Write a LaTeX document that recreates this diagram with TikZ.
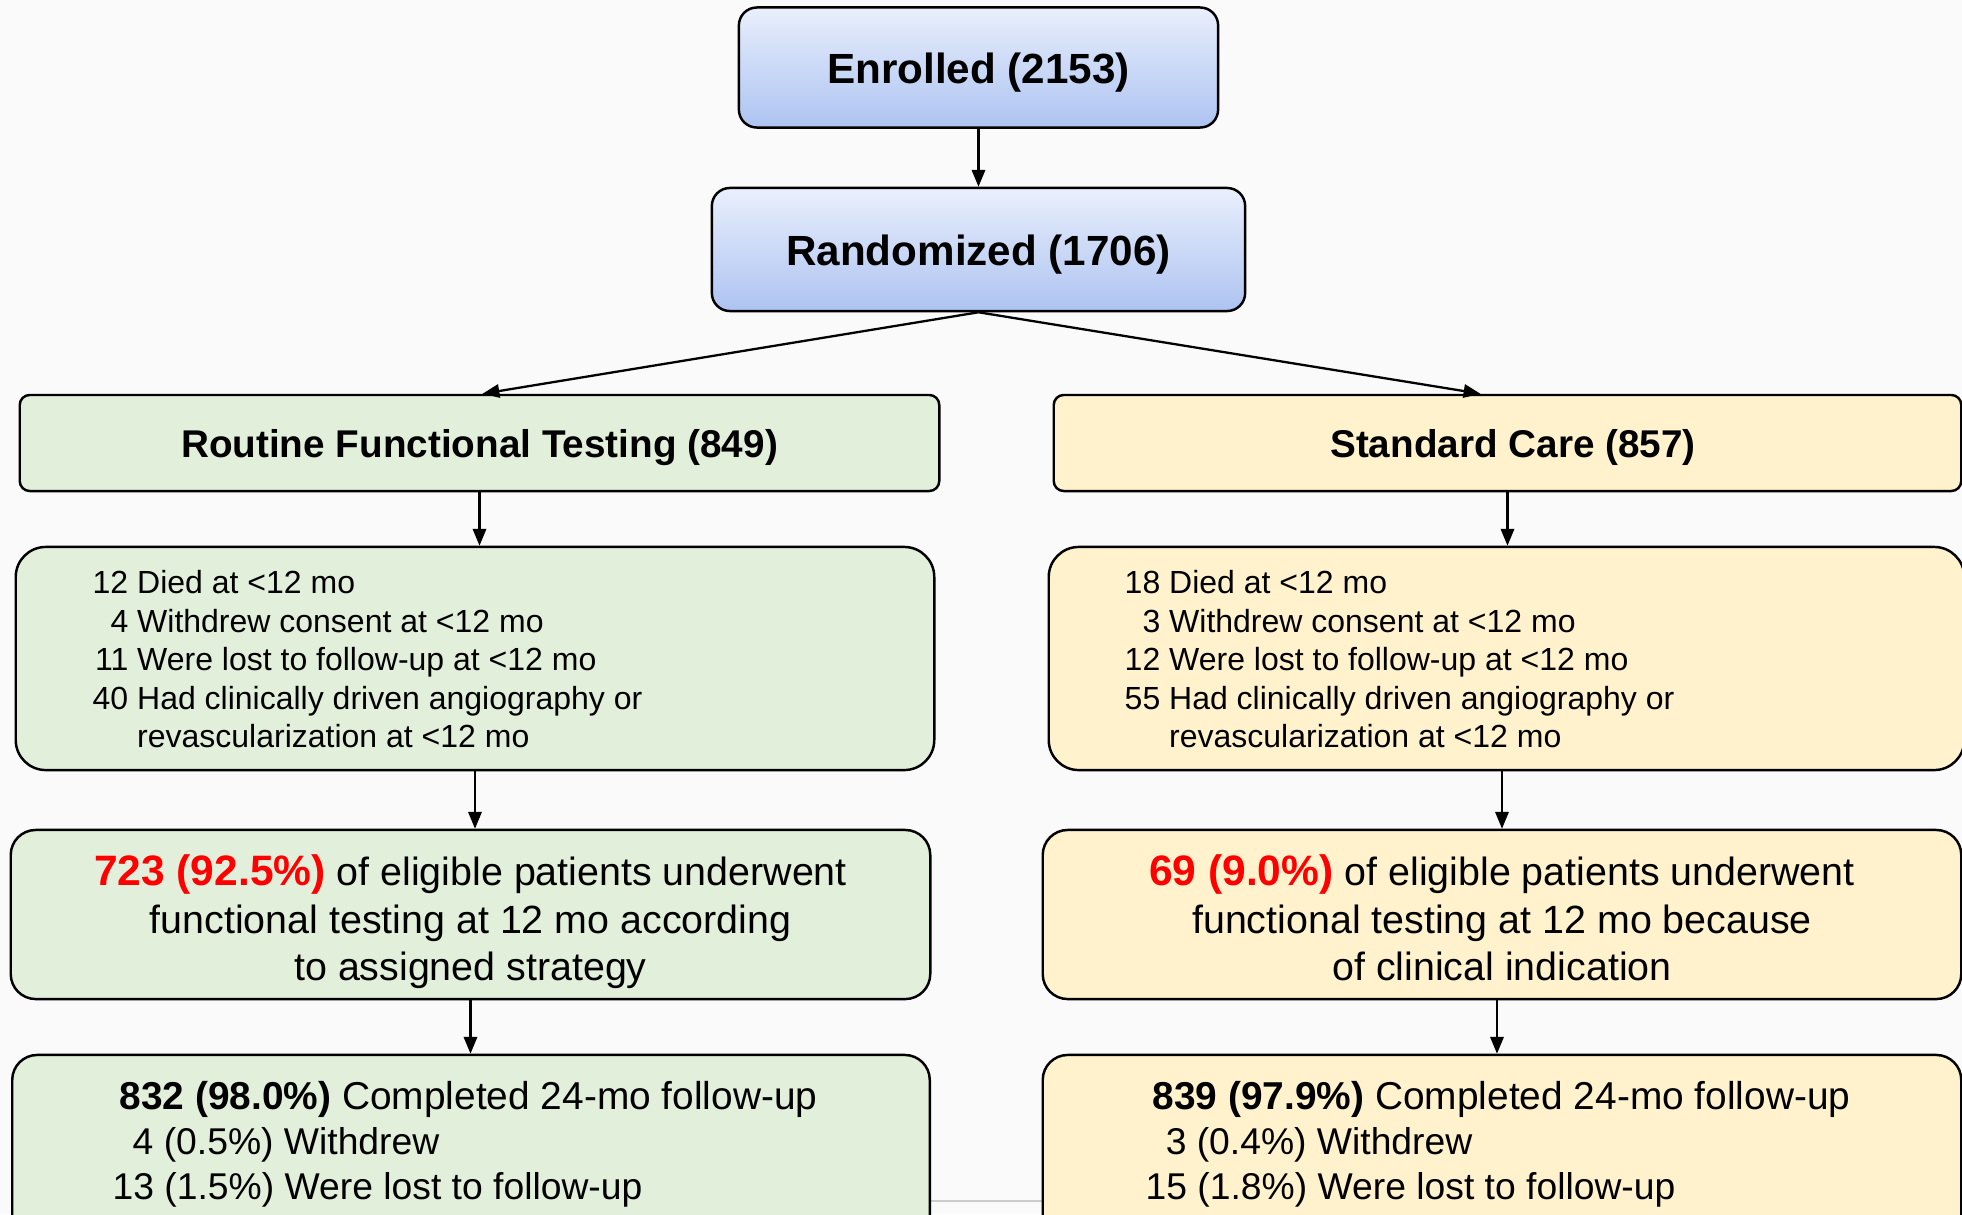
\documentclass[tikz,border=0pt]{standalone}
\usepackage{fontspec}
\setmainfont{Liberation Sans}
\usetikzlibrary{arrows.meta}
\definecolor{bgc}{HTML}{FAFAFA}
\definecolor{gfill}{HTML}{E2EFDA}
\definecolor{yfill}{HTML}{FFF2CC}
\definecolor{btop}{HTML}{E9EFFC}
\definecolor{bbot}{HTML}{ADC3F1}
\definecolor{hired}{HTML}{FF0000}
\begin{document}
\begin{tikzpicture}[x=0.01cm,y=-0.01cm,
  topbox/.style={draw=black, line width=0.7pt, rounded corners=0.18cm, top color=btop, bottom color=bbot, inner sep=0pt, text height=9.2pt, text depth=0pt, font=\fontsize{12}{14}\selectfont\bfseries},
  armbox/.style={draw=black, line width=0.7pt, rounded corners=0.1cm, inner sep=0pt, text height=8.5pt, text depth=0pt, font=\fontsize{11}{13}\selectfont\bfseries},
  detbox/.style={draw=black, line width=0.7pt, rounded corners=0.3cm, inner sep=0pt},
  midbox/.style={draw=black, line width=0.7pt, rounded corners=0.25cm, inner sep=0pt},
  botbox/.style={draw=black, line width=0.7pt, rounded corners=0.25cm, inner sep=0pt},
  dettext/.style={anchor=north west, inner sep=0pt, font=\fontsize{9.1}{10.96}\selectfont},
  midtext/.style={anchor=north, inner sep=0pt, font=\fontsize{11.2}{13.48}\selectfont},
  bottext/.style={anchor=north west, inner sep=0pt, font=\fontsize{11.05}{12.77}\selectfont},
  arr/.style={line width=0.65pt, -{Triangle[length=4.8pt,width=3.8pt]}}]
\newcommand{\redpart}[1]{{\fontsize{12.1}{13.48}\selectfont\color{hired}\bfseries #1}}
\newcommand{\smallpart}{\fontsize{10.6}{12.77}\selectfont}
\useasboundingbox (0,0) rectangle (1962,1214);
\fill[bgc] (0,0) rectangle (1962,1214);
\draw[line width=0.6pt, color=black!20] (930,1201) -- (1043,1201);

% top boxes
\node[topbox, minimum width=4.79cm, minimum height=1.20cm] (enr) at (978.5,67.5) {Enrolled (2153)};
\node[topbox, minimum width=5.33cm, minimum height=1.23cm] (rand) at (978.5,249.5) {Randomized (1706)};

% arm boxes
\node[armbox, fill=gfill, minimum width=9.19cm, minimum height=0.96cm] (rft) at (479.5,443) {Routine Functional Testing (849)};
\node[armbox, fill=yfill, minimum width=9.07cm, minimum height=0.96cm] (std) at (1507.5,443) {\hspace*{3.1pt}Standard Care (857)};

% detail boxes
\node[detbox, fill=gfill, minimum width=9.18cm, minimum height=2.23cm] (ld) at (475,658.5) {};
\node[dettext] (ldt) at (92,566) {\begin{tabular}{@{}r@{\hspace{0.278em}}l@{}}
12 & Died at <12 mo\\
4 & Withdrew consent at <12 mo\\
11 & Were lost to follow-up at <12 mo\\
40 & Had clinically driven angiography or\\
 & revascularization at <12 mo
\end{tabular}};
\node[detbox, fill=yfill, minimum width=9.15cm, minimum height=2.23cm] (rd) at (1506.5,658.5) {};
\node[dettext] (rdt) at (1124,566) {\begin{tabular}{@{}r@{\hspace{0.278em}}l@{}}
18 & Died at <12 mo\\
3 & Withdrew consent at <12 mo\\
12 & Were lost to follow-up at <12 mo\\
55 & Had clinically driven angiography or\\
 & revascularization at <12 mo
\end{tabular}};

% middle boxes
\node[midbox, fill=gfill, minimum width=9.19cm, minimum height=1.69cm] (lm) at (470.5,914.5) {};
\node[midtext] (lmt) at (470.5,852) {\begin{tabular}{@{}c@{}}
\redpart{723 (92.5\%)} of eligible patients underwent\\
functional testing at 12 mo according\\
to assigned strategy
\end{tabular}};
\node[midbox, fill=yfill, minimum width=9.18cm, minimum height=1.69cm] (rm) at (1502,914.5) {};
\node[midtext] (rmt) at (1502,852) {\begin{tabular}{@{}c@{}}
\redpart{69 (9.0\%)} of eligible patients underwent\\
functional testing at 12 mo because\\
of clinical indication
\end{tabular}};

% bottom boxes
\node[botbox, fill=gfill, minimum width=9.17cm, minimum height=1.85cm] (lb) at (471,1147.5) {};
\node[bottext] (lbt) at (112,1077.5) {\begin{tabular}{@{}l@{}}
\hspace*{2pt}\textbf{832 (98.0\%)} Completed 24-mo follow-up\\
\smallpart\hspace*{5.7pt}4 (0.5\%) Withdrew\\
\smallpart 13 (1.5\%) Were lost to follow-up
\end{tabular}};
\node[botbox, fill=yfill, minimum width=9.18cm, minimum height=1.85cm] (rb) at (1502,1147.5) {};
\node[bottext] (rbt) at (1145,1077.5) {\begin{tabular}{@{}l@{}}
\hspace*{2pt}\textbf{839 (97.9\%)} Completed 24-mo follow-up\\
\smallpart\hspace*{5.7pt}3 (0.4\%) Withdrew\\
\smallpart 15 (1.8\%) Were lost to follow-up
\end{tabular}};

% connectors
\draw[arr] (enr.south) -- (rand.north);
\draw[arr] (rand.south) -- ([xshift=0.03cm]rft.north);
\draw[arr] (rand.south) -- ([xshift=-0.27cm]std.north);
\draw[arr] (rft.south) -- (rft.south |- ld.north);
\draw[arr] (std.south) -- (std.south |- rd.north);
\draw[arr] (ld.south) -- (ld.south |- lm.north);
\draw[arr] (rm.north |- rd.south) -- (rm.north);
\draw[arr] (lm.south) -- (lm.south |- lb.north);
\draw[arr] ([xshift=-0.05cm]rm.south) -- ([xshift=-0.05cm]rm.south |- rb.north);
\end{tikzpicture}
\end{document}
